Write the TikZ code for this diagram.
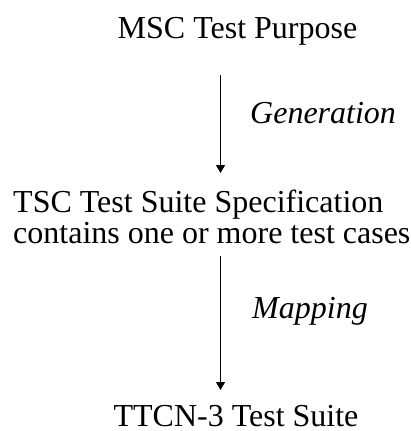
\documentclass[tikz,border=0pt]{standalone}
\usepackage{fontspec}
\setmainfont{Liberation Serif}
\usetikzlibrary{arrows.meta}
\begin{document}
\begin{tikzpicture}[x=1pt,y=1pt,
  stage/.style={inner sep=0pt,font=\fontsize{32}{31}\selectfont},
  phase/.style={inner sep=0pt,anchor=base west,font=\fontsize{32}{31}\selectfont\itshape},
  flow/.style={line width=0.9pt,-{Triangle[length=8pt,width=9pt]}}]
\useasboundingbox (0,0) rectangle (411,-431);
% the three artefacts of the chain
\node[stage,anchor=base] (msc) at (237.5,-38) {MSC Test Purpose};
\node[stage,anchor=base west,align=left] (tsc) at (13,-243)
  {TSC Test Suite Specification\\contains one or more test cases};
\node[stage,anchor=base] (ttcn) at (236,-426) {TTCN-3 Test Suite};
% transformation steps
\coordinate (axis) at (220.5,0);
\draw[flow] (msc.south -| axis) ++(0,-30) coordinate (g0) -- (g0 |- 0,-173) coordinate (g1);
\draw[flow] (tsc.south -| axis) ++(0,-12) coordinate (m0) -- (m0 |- 0,-390) coordinate (m1);
\node[phase] (gen) at (250,-123) {Generation};
\node[phase] (map) at (252,-318) {Mapping};
\end{tikzpicture}
\end{document}
